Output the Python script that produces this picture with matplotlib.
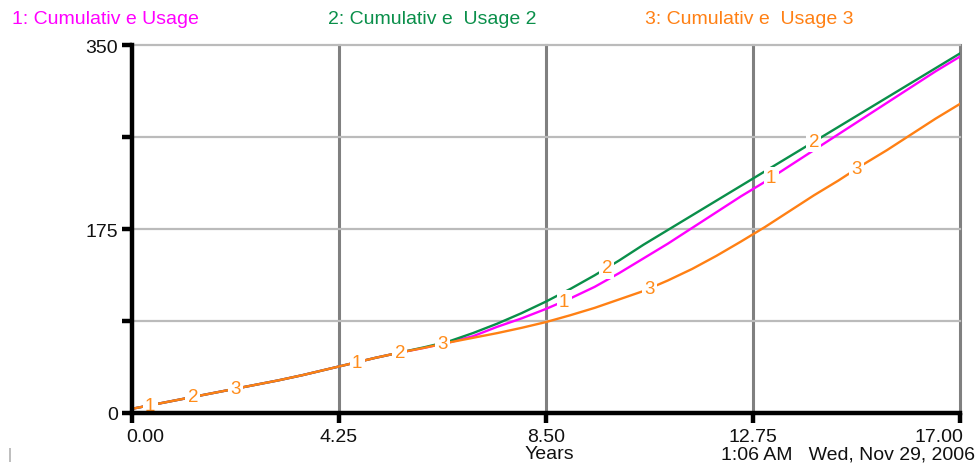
import matplotlib
matplotlib.use("Agg")
import matplotlib.pyplot as plt
import matplotlib.transforms as mtransforms
import numpy as np

plt.rcParams['font.family'] = ['Liberation Sans', 'DejaVu Sans']

# Simulation time (years) and cumulative usage for the three runs
years = [0.0, 0.5, 1.0, 1.5, 2.0, 2.5, 3.0, 3.5, 4.0, 4.5, 5.0, 5.5, 6.0, 6.5,
         7.0, 7.5, 8.0, 8.5, 9.0, 9.5, 10.0, 10.5, 11.0, 11.5, 12.0, 12.5,
         13.0, 13.5, 14.0, 14.5, 15.0, 15.5, 16.0, 16.5, 17.0]
usage_1 = [4, 8.5, 13, 17.5, 22, 26.5, 31, 36, 41.5, 47, 52.5, 57.5, 62, 67,
           73, 82, 90, 99, 109, 120, 133, 147, 161, 176, 191, 206,
           220, 235, 250, 265, 280, 295, 310, 325, 339]
usage_2 = [4, 8.5, 13, 17.5, 22, 26.5, 31, 36, 41.5, 47, 52.5, 57.5, 62.5, 68,
           76, 85, 95, 106, 118, 131, 145, 160, 174, 188, 202, 216,
           230, 244, 258, 272, 286, 300, 314, 328, 342]
usage_3 = [4, 8.5, 13, 17.5, 22, 26.5, 31, 36, 41.5, 47, 52.5, 57.5, 62, 67,
           71.5, 76, 81, 86.5, 93, 100, 108, 116, 126, 137, 149.5, 163,
           177, 192, 207, 221, 236, 250, 265, 280, 294]

series_names = ["1: Cumulativ e Usage", "2: Cumulativ e  Usage 2", "3: Cumulativ e  Usage 3"]
x_ticks = [0.0, 4.25, 8.5, 12.75, 17.0]
x_tick_labels = ["0.00", "4.25", "8.50", "12.75", "17.00"]
y_ticks = [0, 87.5, 175, 262.5, 350]
y_tick_labels = ["0", "", "175", "", "350"]

colors = ["#FF00FF", "#0A8F4A", "#FF8014"]
label_color = "#FF8C1A"
text_size = 14

fig = plt.figure(figsize=(9.79, 4.64), dpi=100)
ax = fig.add_axes([132 / 979, 1 - 414 / 464, (960 - 132) / 979, (414 - 46) / 464])
ax.set_xlim(0, 17)
ax.set_ylim(0, 350)

# grid: heavy vertical lines, light horizontal lines
for xv in x_ticks[1:]:
    ax.axvline(xv, color="#808080", lw=2.2, zorder=1, clip_on=False)
for yv in y_ticks[1:]:
    ax.axhline(yv, color="#BBBBBB", lw=1.6, zorder=1, clip_on=False)

series = [usage_1, usage_2, usage_3]
for vals, c in zip(series, colors):
    ax.plot(years, vals, color=c, lw=1.7, zorder=3)

# numbered run labels along each curve
label_starts = [0.375, 1.25, 2.125]
for i, vals in enumerate(series):
    for k in range(4):
        tx = label_starts[i] + 4.25 * k
        ty = np.interp(tx, years, vals)
        ax.text(tx, ty, str(i + 1), color=label_color, fontsize=13.5,
                ha="center", va="center", zorder=5,
                bbox=dict(boxstyle="square,pad=0.12", fc="white", ec="none"))

for side in ["top", "right"]:
    ax.spines[side].set_visible(False)
for side in ["left", "bottom"]:
    ax.spines[side].set_color("black")
    ax.spines[side].set_linewidth(3.2)
    ax.spines[side].set_zorder(6)

ax.set_xticks(x_ticks)
ax.set_xticklabels(x_tick_labels)
ax.set_yticks(y_ticks)
ax.set_yticklabels(y_tick_labels)
ax.tick_params(axis="both", direction="out", length=7, width=3.2, color="black",
               labelsize=text_size, labelcolor="#111111")
ax.tick_params(axis="x", pad=4)
ax.tick_params(axis="y", pad=3)

xl = ax.get_xticklabels()
xl[0].set_ha("left")
xl[0].set_transform(xl[0].get_transform() + mtransforms.ScaledTranslation(-6 / 100, 0, fig.dpi_scale_trans))
xl[-1].set_ha("right")
xl[-1].set_transform(xl[-1].get_transform() + mtransforms.ScaledTranslation(3 / 100, 0, fig.dpi_scale_trans))

# series names across the top
for name, c, xpix in zip(series_names, colors, [12, 328, 645]):
    fig.text(xpix / 979, 1 - 19 / 464, name, color=c, fontsize=text_size, ha="left", va="center")

fig.text(549 / 979, 1 - 455 / 464, "Years", fontsize=text_size, color="#111111", ha="center", va="center")
fig.text(975 / 979, 1 - 455 / 464, "1:06 AM   Wed, Nov 29, 2006", fontsize=text_size,
         color="#111111", ha="right", va="center")
fig.text(10 / 979, 1 - 455 / 464, "|", fontsize=11, color="#999999", ha="center", va="center")

fig.savefig("out.png", dpi=100)
